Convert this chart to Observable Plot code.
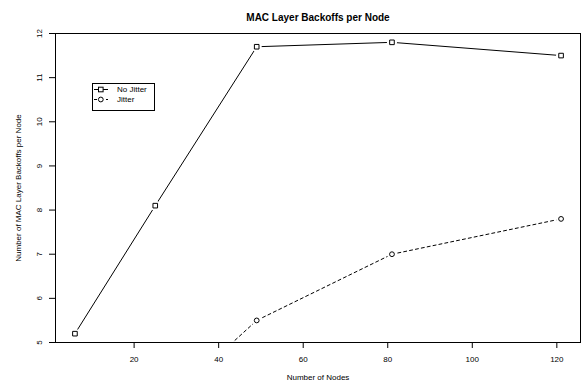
<!DOCTYPE html>
<html>
<head>
<meta charset="utf-8">
<script src="https://cdn.jsdelivr.net/npm/d3@7"></script>
<script src="https://cdn.jsdelivr.net/npm/@observablehq/plot@0.6"></script>
<style>
  html, body { margin: 0; padding: 0; background: white; }
</style>
</head>
<body>
<div id="chart"></div>
<script>
const title = "MAC Layer Backoffs per Node";
const xLabel = "Number of Nodes";
const yLabel = "Number of MAC Layer Backoffs per Node";
const seriesNames = ["No Jitter", "Jitter"];
const noJitterNodes = [6, 25, 49, 81, 121];
const noJitterValues = [5.2, 8.1, 11.7, 11.8, 11.5];
const jitterNodes = [25, 49, 81, 121];
const jitterValues = [3.4, 5.5, 7.0, 7.8];
const xTicks = [20, 40, 60, 80, 100, 120];
const yTicks = [5, 6, 7, 8, 9, 10, 11, 12];

const nj = noJitterNodes.map((x, i) => ({x, y: noJitterValues[i]}));
const jt = jitterNodes.map((x, i) => ({x, y: jitterValues[i]}));

const chart = Plot.plot({
  width: 582,
  height: 389,
  marginLeft: 55,
  marginRight: 2,
  marginTop: 33,
  marginBottom: 47,
  x: {domain: [1.4, 125.6]},
  y: {domain: [5, 12]},
  style: {fontFamily: "'Liberation Sans', Arial, sans-serif", fontSize: "8px", background: "white", color: "black"},
  marks: [
    Plot.line(nj, {x: "x", y: "y", stroke: "black", strokeWidth: 1, clip: true}),
    Plot.line(jt, {x: "x", y: "y", stroke: "black", strokeWidth: 1, strokeDasharray: "3,3", clip: true}),
    Plot.dot(nj, {x: "x", y: "y", r: 5, fill: "white", stroke: "none", clip: true}),
    Plot.dot(jt, {x: "x", y: "y", r: 5, fill: "white", stroke: "none", clip: true}),
    Plot.dot(nj, {x: "x", y: "y", symbol: "square", r: 2.6, fill: "white", stroke: "black", strokeWidth: 1, clip: true}),
    Plot.dot(jt, {x: "x", y: "y", symbol: "circle", r: 2.4, fill: "white", stroke: "black", strokeWidth: 1, clip: true}),
    Plot.frame({stroke: "black", strokeWidth: 1}),
    Plot.axisX({ticks: xTicks, tickSize: 6, tickPadding: 8, label: null, fontSize: 8}),
    Plot.axisY({ticks: yTicks, tickSize: 6, tickFormat: () => "", label: null}),
    Plot.text(yTicks, {y: d => d, text: d => String(d), frameAnchor: "left", dx: -16, rotate: -90, textAnchor: "middle", fontSize: 8}),
    Plot.text([yLabel], {text: d => d, frameAnchor: "left", dx: -37, rotate: -90, textAnchor: "middle", fontSize: 8}),
    Plot.text([xLabel], {text: d => d, frameAnchor: "bottom", dy: 37, textAnchor: "middle", fontSize: 8}),
    Plot.text([title], {text: d => d, frameAnchor: "top", dy: -20, textAnchor: "middle", fontSize: 10, fontWeight: "bold"})
  ]
});

// legend
const svg = d3.select(chart);
const lg = svg.append("g")
  .attr("font-family", "'Liberation Sans', Arial, sans-serif")
  .attr("font-size", 8)
  .attr("text-anchor", "start");
lg.append("rect").attr("x", 92.5).attr("y", 83.5).attr("width", 62).attr("height", 27)
  .attr("fill", "white").attr("stroke", "black");
const rows = [89.5, 99.5];
lg.append("line").attr("x1", 94).attr("x2", 108).attr("y1", rows[0]).attr("y2", rows[0]).attr("stroke", "black");
lg.append("line").attr("x1", 94).attr("x2", 108).attr("y1", rows[1]).attr("y2", rows[1]).attr("stroke", "black").attr("stroke-dasharray", "3,3");
lg.append("rect").attr("x", 98.5).attr("y", rows[0] - 2.3).attr("width", 4.6).attr("height", 4.6).attr("fill", "white").attr("stroke", "black");
lg.append("circle").attr("cx", 100.8).attr("cy", rows[1]).attr("r", 2.4).attr("fill", "white").attr("stroke", "black");
seriesNames.forEach((name, i) => {
  lg.append("text").attr("x", 117).attr("y", rows[i]).attr("dy", "0.32em").attr("text-anchor", "start").attr("fill", "black").text(name);
});

document.getElementById("chart").appendChild(chart);
</script>
</body>
</html>
